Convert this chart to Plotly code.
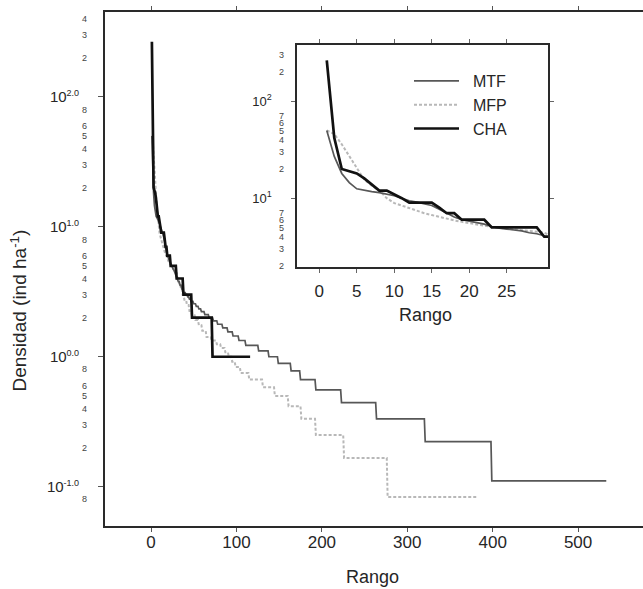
import plotly.graph_objects as go

# ---------------- data ----------------
# Rank / density (ind ha-1).  Plateaus are given by their first and last rank.
mtf_rank = [1, 2, 3, 4, 5, 6, 7, 8, 9, 10, 11, 12, 13, 14, 15, 16, 17, 18, 19, 20,
            21, 22, 23, 24, 25, 26, 27, 28, 29, 30,
            31, 32, 33, 34, 35, 36, 37, 38, 40, 41, 42, 43, 44, 45, 46, 47, 49,
            50, 52, 53, 55, 56, 58, 59, 62, 63, 67, 68, 72, 73, 77, 78, 83, 84, 89,
            90, 95, 96, 102, 103, 110, 111, 125, 126, 137, 138, 148, 149, 163,
            164, 174, 175, 192, 193, 222, 223, 263, 264, 320, 321, 398, 399, 533]
mtf_dens = [50, 27, 18, 14.5, 12.5, 12, 11.7, 11.4, 11, 10.6, 10, 9.4, 9.1, 8.8, 8.4,
            7.7, 7, 6.4, 6, 5.8, 5.6, 5.4, 5.1, 4.9, 4.8, 4.7, 4.6, 4.4, 4.3, 4.1,
            4.0, 3.778, 3.778, 3.556, 3.556, 3.333, 3.333, 3.111, 3.111, 3.0, 3.0,
            2.889, 2.889, 2.778, 2.778, 2.667, 2.667, 2.556, 2.556, 2.444, 2.444,
            2.333, 2.333, 2.222, 2.222, 2.111, 2.111, 2.0, 2.0, 1.889, 1.889,
            1.778, 1.778, 1.667, 1.667, 1.556, 1.556, 1.444, 1.444, 1.333, 1.333,
            1.222, 1.222, 1.111, 1.111, 1.0, 1.0, 0.889, 0.889, 0.778, 0.778,
            0.667, 0.667, 0.556, 0.556, 0.444, 0.444, 0.333, 0.333, 0.222, 0.222,
            0.111, 0.111]

mfp_rank = [1, 2, 3, 4, 5, 6, 7, 8, 9, 10, 11, 12, 13, 14, 15, 16, 17, 18, 19, 20,
            21, 22, 23, 24, 25, 26, 27, 28, 29, 30,
            31, 32, 33, 34, 35, 36, 37, 38, 39, 41, 42, 44, 45, 47, 48, 51, 52, 55,
            56, 59, 60, 64, 65, 70, 71, 76, 77, 81, 82, 86, 87, 90, 91, 94, 95, 98,
            99, 104, 105, 114, 115, 130, 131, 144, 145, 160, 161, 175, 176, 192,
            193, 225, 226, 276, 277, 382]
mfp_dens = [50, 46, 36, 27, 20, 15.5, 13.5, 12, 10, 8.9, 8.4, 7.9, 7.4, 7.0, 6.7,
            6.4, 6.2, 5.9, 5.7, 5.5, 5.35, 5.2, 5.05, 4.95, 4.85, 4.75, 4.68, 4.6,
            4.5, 4.42,
            4.0, 4.0, 3.667, 3.667, 3.333, 3.333, 3.0, 3.0, 2.75, 2.75, 2.5, 2.5,
            2.25, 2.25, 2.083, 2.083, 1.917, 1.917, 1.75, 1.75, 1.583, 1.583,
            1.417, 1.417, 1.333, 1.333, 1.25, 1.25, 1.167, 1.167, 1.083, 1.083,
            1.0, 1.0, 0.917, 0.917, 0.833, 0.833, 0.75, 0.75, 0.667, 0.667,
            0.583, 0.583, 0.5, 0.5, 0.417, 0.417, 0.333, 0.333, 0.25, 0.25,
            0.1667, 0.1667, 0.0833, 0.0833]

cha_rank = [1, 2, 3, 4, 5, 6, 7, 8, 9, 10, 11, 12, 13, 14, 15, 16, 17, 18, 19, 20,
            21, 22, 23, 24, 25, 26, 27, 28, 29, 30,
            37, 38, 47, 48, 71, 72, 116]
cha_dens = [265, 42, 20, 19, 18, 16, 14, 12, 12, 11, 10, 9, 9, 9, 9, 8, 7, 7, 6, 6,
            6, 6, 5, 5, 5, 5, 5, 5, 5, 4,
            4, 3, 3, 2, 2, 1, 1]

series_names = ["MTF", "MFP", "CHA"]

# tick labels
main_major_vals = [0.1, 1, 10, 100]
main_major_exp = ["-1.0", "0.0", "1.0", "2.0"]
main_minor_vals = [0.08,
                   0.2, 0.3, 0.4, 0.5, 0.6, 0.8,
                   2, 3, 4, 5, 6, 8,
                   20, 30, 40, 50, 60, 80,
                   200, 300, 400]
main_minor_text = ["8",
                   "2", "3", "4", "5", "6", "8",
                   "2", "3", "4", "5", "6", "8",
                   "2", "3", "4", "5", "6", "8",
                   "2", "3", "4"]
inset_major_vals = [10, 100]
inset_major_exp = ["1", "2"]
inset_minor_vals = [2, 3, 4, 5, 6, 7, 20, 30, 40, 50, 60, 70, 200, 300]
inset_minor_text = ["2", "3", "4", "5", "6", "7", "2", "3", "4", "5", "6", "7", "2", "3"]
main_x_ticks = [0, 100, 200, 300, 400, 500]
inset_x_ticks = [0, 5, 10, 15, 20, 25]

# ---------------- styles ----------------
FONT = "Liberation Sans, Arial, sans-serif"
TXT = "#262626"
styles = {
    "MTF": dict(color="#575757", width=1.7, dash="solid"),
    "MFP": dict(color="#b8b8b8", width=2.0, dash="3px,2px"),
    "CHA": dict(color="#111111", width=2.7, dash="solid"),
}
data = {
    "MTF": (mtf_rank, mtf_dens),
    "MFP": (mfp_rank, mfp_dens),
    "CHA": (cha_rank, cha_dens),
}

def sup_label(exp, size):
    return "10<sup><span style='font-size:%dpx'>%s</span></sup>" % (size, exp)

fig = go.Figure()

# main panel (draw order: MFP, MTF, CHA)
for name in ["MFP", "MTF", "CHA"]:
    xr, yd = data[name]
    fig.add_trace(go.Scatter(x=xr, y=yd, mode="lines", line=styles[name],
                             showlegend=False, xaxis="x", yaxis="y", hoverinfo="skip"))
# inset panel
for name, rank in [("MFP", 2), ("MTF", 1), ("CHA", 3)]:
    xr, yd = data[name]
    fig.add_trace(go.Scatter(x=xr, y=yd, mode="lines", line=styles[name],
                             name="\u00a0\u00a0" + name,
                             legendrank=rank, showlegend=True, xaxis="x2", yaxis="y2",
                             hoverinfo="skip"))
# empty traces to hold the minor-label overlay axes
fig.add_trace(go.Scatter(x=[], y=[], xaxis="x", yaxis="y3", showlegend=False, hoverinfo="skip"))
fig.add_trace(go.Scatter(x=[], y=[], xaxis="x2", yaxis="y4", showlegend=False, hoverinfo="skip"))

W, H = 643, 589
ML, MR, MT, MB = 105, 0, 12, 63
PW, PH = W - ML - MR, H - MT - MB

def px_x(p):
    return (p - ML) / PW

def px_y(p):
    return (H - MB - p) / PH

main_yrange = [-1.302, 2.652]
inset_yrange = [0.29, 2.581]

fig.update_layout(
    width=W, height=H,
    margin=dict(l=ML, r=MR, t=MT, b=MB, pad=0),
    paper_bgcolor="white", plot_bgcolor="white",
    font=dict(family=FONT, color=TXT),
    xaxis=dict(domain=[0, 1], range=[-53.9, 576], tickvals=main_x_ticks,
               showline=True, linecolor="#2a2a2a", linewidth=1.8, mirror="ticks",
               ticks="outside", ticklen=4, tickcolor="#555", showgrid=False, zeroline=False,
               tickfont=dict(size=17, family=FONT, color=TXT), ticklabelstandoff=-4,
               anchor="y"),
    yaxis=dict(domain=[0, 1], type="log", range=main_yrange,
               tickvals=main_major_vals,
               ticktext=[sup_label(e, 9) for e in main_major_exp],
               showline=True, linecolor="#2a2a2a", linewidth=1.8, mirror=False,
               ticks="outside", ticklen=5, tickcolor="#555", showgrid=False, zeroline=False,
               tickfont=dict(size=15, family=FONT, color=TXT), ticklabelstandoff=16,
               anchor="x"),
    yaxis3=dict(overlaying="y", type="log", range=main_yrange, anchor="x", side="left",
                tickvals=main_minor_vals, ticktext=main_minor_text, ticks="",
                showline=False, showgrid=False, zeroline=False,
                tickfont=dict(size=9, family=FONT, color="#444"), ticklabelstandoff=17),
    xaxis2=dict(domain=[px_x(297), px_x(548)], range=[-2.97, 30.5], tickvals=inset_x_ticks,
                showline=True, linecolor="#2a2a2a", linewidth=1.5, mirror="ticks",
                ticks="outside", ticklen=4, tickcolor="#666", showgrid=False, zeroline=False,
                tickfont=dict(size=17, family=FONT, color=TXT), ticklabelstandoff=4,
                anchor="y2"),
    yaxis2=dict(domain=[px_y(267), px_y(45)], type="log", range=inset_yrange,
                tickvals=inset_major_vals,
                ticktext=[sup_label(e, 9) for e in inset_major_exp],
                showline=True, linecolor="#2a2a2a", linewidth=1.5, mirror="ticks",
                ticks="outside", ticklen=4, tickcolor="#666", showgrid=False, zeroline=False,
                tickfont=dict(size=13, family=FONT, color=TXT), ticklabelstandoff=17,
                anchor="x2"),
    yaxis4=dict(overlaying="y2", type="log", range=inset_yrange, anchor="x2", side="left",
                tickvals=inset_minor_vals, ticktext=inset_minor_text, ticks="",
                showline=False, showgrid=False, zeroline=False,
                tickfont=dict(size=9, family=FONT, color="#444"), ticklabelstandoff=12),
    legend=dict(x=px_x(409), y=px_y(64), xanchor="left", yanchor="top",
                bgcolor="rgba(0,0,0,0)", borderwidth=0, itemwidth=45,
                font=dict(size=16, family=FONT, color=TXT), traceorder="normal"),
    showlegend=True,
)

fig.add_annotation(text="Densidad (ind ha<sup>-1</sup>)", textangle=-90,
                   x=px_x(18.5), y=px_y(311), xref="paper", yref="paper",
                   xanchor="center", yanchor="middle",
                   showarrow=False, font=dict(size=19, family=FONT, color=TXT))
fig.add_annotation(text="Rango", x=px_x(372), y=px_y(589), xref="paper", yref="paper",
                   xanchor="center", yanchor="bottom",
                   showarrow=False, font=dict(size=18, family=FONT, color=TXT))
fig.add_annotation(text="Rango", x=px_x(425), y=px_y(315), xref="paper", yref="paper",
                   xanchor="center", yanchor="middle",
                   showarrow=False, font=dict(size=18, family=FONT, color=TXT))

# the page body has a default 8px margin; remove it so the figure fills the window
fig.write_html("out.html", config={"displayModeBar": False},
               post_script="document.body.style.margin='0px';")
